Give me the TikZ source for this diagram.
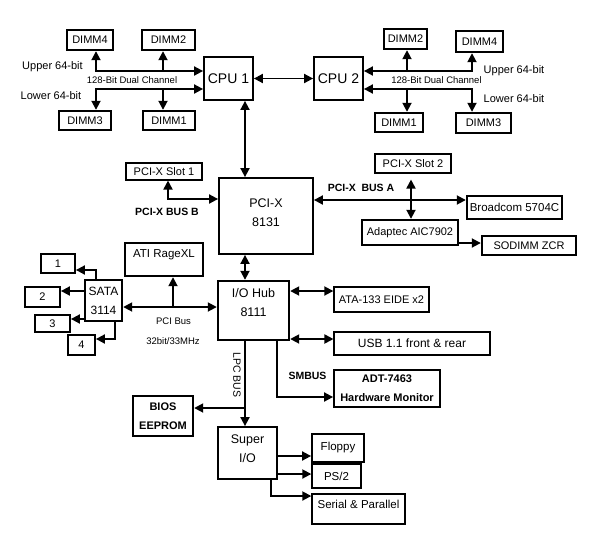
\documentclass[tikz,border=0pt]{standalone}
\usepackage{fontspec}
\setmainfont{Liberation Sans}
\usepackage{tikz}
\usetikzlibrary{arrows.meta}

\begin{document}
\begin{tikzpicture}[x=1pt,y=-1pt,
	thickbox/.style={draw,line width=2.4pt,inner sep=1pt,align=center},
	midbox/.style={draw,line width=1.8pt,inner sep=1pt,align=center},
	thinbox/.style={draw,line width=1.1pt,inner sep=1pt,align=center},
	fnt/.style={font=\fontsize{#1}{19}\selectfont},
	fntb/.style={font=\fontsize{#1}{19}\selectfont\bfseries},
	lbl/.style={inner sep=0pt,align=center,font=\fontsize{#1}{19}\selectfont},
	lblb/.style={inner sep=0pt,align=center,font=\fontsize{#1}{19}\selectfont\bfseries},
	arr/.style={line width=1.8pt,-{Triangle[length=9pt,width=9pt]}},
	dbl/.style={line width=1.8pt,{Triangle[length=9pt,width=9pt]}-{Triangle[length=9pt,width=9pt]}}]

	\useasboundingbox (0,0) rectangle (593,555);

	% processors and memory
	\node[midbox,fnt=14,minimum width=49pt,minimum height=43pt] (cpu1) at (228.5,78.5) {CPU 1};
	\node[midbox,fnt=14,minimum width=49pt,minimum height=43pt] (cpu2) at (338.5,78.5) {CPU 2};
	\node[thickbox,fnt=11,minimum width=46pt,minimum height=20pt] (dimmA4) at (90,40) {DIMM4};
	\node[thickbox,fnt=11,minimum width=53pt,minimum height=20pt] (dimmA2) at (168.5,40) {DIMM2};
	\node[thickbox,fnt=11,minimum width=52pt,minimum height=19pt] (dimmA3) at (85,120.5) {DIMM3};
	\node[thickbox,fnt=11,minimum width=52pt,minimum height=19pt] (dimmA1) at (169,120.5) {DIMM1};
	\node[thickbox,fnt=11,minimum width=43pt,minimum height=20pt] (dimmB2) at (405.5,39) {DIMM2};
	\node[thickbox,fnt=11,minimum width=47pt,minimum height=21pt] (dimmB4) at (479.5,41.5) {DIMM4};
	\node[thickbox,fnt=11,minimum width=48pt,minimum height=19pt] (dimmB1) at (399,122.5) {DIMM1};
	\node[thickbox,fnt=11,minimum width=55pt,minimum height=20pt] (dimmB3) at (483.5,123) {DIMM3};

	% PCI-X bridge
	\node[midbox,minimum width=94pt,minimum height=76pt,
		label={[lbl=12.5,yshift=3.5pt]center:{PCI-X\\8131}}] (pcix) at (266,216) {};
	\node[thinbox,fnt=11,minimum width=76pt,minimum height=17pt] (slot1) at (164,171.5) {PCI-X Slot 1};
	\node[thinbox,fnt=11,minimum width=76pt,minimum height=19pt] (slot2) at (413,163.5) {PCI-X Slot 2};
	\node[thickbox,fnt=11.5,minimum width=95pt,minimum height=23pt] (bcm) at (514.5,207.5) {Broadcom 5704C};
	\node[thickbox,fnt=11,minimum width=96pt,minimum height=25pt] (aic) at (410,232.5) {Adaptec AIC7902};
	\node[thickbox,fnt=11,minimum width=94pt,minimum height=19pt] (sodimm) at (529,245.5) {SODIMM ZCR};

	% PCI bus side
	\node[thickbox,minimum width=78pt,minimum height=33pt,
		label={[lbl=11.5,yshift=4.5pt]center:ATI RageXL}] (ati) at (164,259.5) {};
	\node[thickbox,fnt=12,minimum width=37pt,minimum height=41pt] (sata) at (103.5,300.5) {SATA\\3114};
	\node[midbox,fnt=11,minimum width=34pt,minimum height=19pt] (s1) at (58,263.5) {1};
	\node[midbox,fnt=11,minimum width=35pt,minimum height=20pt] (s2) at (42.5,297) {2};
	\node[midbox,fnt=11,minimum width=35pt,minimum height=17pt] (s3) at (52.5,323.5) {3};
	\node[midbox,fnt=11,minimum width=27pt,minimum height=20pt] (s4) at (81.5,345) {4};

	% I/O hub and its devices
	\node[thickbox,minimum width=71pt,minimum height=59pt,
		label={[lbl=12.5,yshift=8pt]center:{I/O Hub\\8111}}] (iohub) at (253.5,310.5) {};
	\node[thinbox,line width=1.4pt,fnt=11,minimum width=95pt,minimum height=25pt] (ata) at (381.5,299.5) {ATA-133 EIDE x2};
	\node[thinbox,fnt=12,minimum width=156pt,minimum height=23pt] (usb) at (412,343.5) {USB 1.1 front \& rear};
	\node[midbox,fntb=11,minimum width=106pt,minimum height=37pt] (adt) at (387,388.5) {ADT-7463\\Hardware Monitor};
	\node[thickbox,fntb=11,minimum width=60pt,minimum height=40pt] (bios) at (163,416) {BIOS\\EEPROM};
	\node[midbox,minimum width=59pt,minimum height=52pt,
		label={[lbl=12.5,yshift=4pt]center:{Super\\I/O}}] (super) at (247.5,453) {};
	\node[midbox,fnt=11.5,minimum width=52pt,minimum height=28pt] (floppy) at (338,448) {Floppy};
	\node[thinbox,line width=1.4pt,fnt=11.5,minimum width=49pt,minimum height=24pt] (ps2) at (336.5,476) {PS/2};
	\node[thinbox,line width=1.4pt,minimum width=93pt,minimum height=30pt,
		label={[lbl=11.5,yshift=5pt]center:Serial \& Parallel}] (serial) at (358.5,509) {};

	% bus labels
	\node[lbl=11] (upLA) at (52.5,67) {Upper 64-bit};
	\node[lbl=11] (loLA) at (51,96) {Lower 64-bit};
	\node[lbl=9.5] (dcA) at (132,80.5) {128-Bit Dual Channel};
	\node[lbl=11] (upLB) at (514,71) {Upper 64-bit};
	\node[lbl=11] (loLB) at (514,99) {Lower 64-bit};
	\node[lbl=9.5] (dcB) at (436.5,80.5) {128-Bit Dual Channel};
	\node[lblb=10.5] (busBlbl) at (167,212) {PCI-X BUS B};
	\node[lblb=10.5] (busAlbl) at (361,188) {PCI-X~~BUS A};
	\node[lbl=9.5] (pcilbl) at (173.5,321) {PCI Bus};
	\node[lbl=9.5] (clklbl) at (173,341) {32bit/33MHz};
	\node[lblb=10.5] (smblbl) at (307.5,376) {SMBUS};
	\node[lbl=10.5,rotate=-90] (lpclbl) at (237,375) {LPC BUS};

	% junction points of the buses
	\coordinate (upA) at (96,71);
	\coordinate (upAb) at (163,71);
	\coordinate (loA) at (96,89);
	\coordinate (loAb) at (163,89);
	\coordinate (upB) at (472,71);
	\coordinate (upBb) at (407,71);
	\coordinate (loB) at (472,89);
	\coordinate (loBb) at (407,89);
	\coordinate (spine) at (245,0);
	\coordinate (busB) at (168,199);
	\coordinate (busA) at (0,200);
	\coordinate (aicX) at (411,0);
	\coordinate (zcr) at (0,243);
	\coordinate (pcibus) at (0,307);
	\coordinate (atiX) at (173,0);
	\coordinate (sA) at (96,270);
	\coordinate (sB) at (0,291);
	\coordinate (sC) at (0,319);
	\coordinate (sD) at (115,339);
	\coordinate (ataY) at (0,291);
	\coordinate (usbY) at (0,339);
	\coordinate (smb) at (277,397);
	\coordinate (biosY) at (0,408);
	\coordinate (fdY) at (0,456);
	\coordinate (psY) at (0,474);
	\coordinate (spX) at (271,496);

	% memory channels
	\draw[dbl] (dimmA4.south -| upA) |- (cpu1.west |- upA);
	\draw[arr] (upAb) -- (dimmA2.south -| upAb);
	\draw[dbl] (dimmA3.north -| loA) |- (cpu1.west |- loA);
	\draw[arr] (loAb) -- (dimmA1.north -| loAb);
	\draw[dbl] (dimmB4.south -| upB) |- (cpu2.east |- upB);
	\draw[arr] (upBb) -- (dimmB2.south -| upBb);
	\draw[dbl] (dimmB3.north -| loB) |- (cpu2.east |- loB);
	\draw[arr] (loBb) -- (dimmB1.north -| loBb);
	\draw[dbl] (cpu1) -- (cpu2);

	% PCI-X
	\draw[dbl] (cpu1.south -| spine) -- (pcix.north -| spine);
	\draw[dbl] (pcix.south -| spine) -- (iohub.north -| spine);
	\draw[dbl] (slot1.south -| busB) |- (pcix.west |- busB);
	\draw[dbl] (pcix.east |- busA) -- (bcm.west |- busA);
	\draw[dbl,shorten <=6pt] (slot2.south -| aicX) -- (aic.north -| aicX);
	\draw[arr] (aic.east |- zcr) -- (sodimm.west |- zcr);

	% PCI bus and SATA ports
	\draw[dbl] (sata.east |- pcibus) -- (iohub.west |- pcibus);
	\draw[arr] (atiX |- pcibus) -- (ati.south -| atiX);
	\draw[arr] (sata.north -| sA) |- (s1.east |- sA);
	\draw[arr] (sata.west |- sB) -- (s2.east |- sB);
	\draw[arr] (sata.west |- sC) -- (s3.east |- sC);
	\draw[arr] (sata.south -| sD) |- (s4.east |- sD);

	% I/O hub
	\draw[dbl] (iohub.east |- ataY) -- (ata.west |- ataY);
	\draw[dbl] (iohub.east |- usbY) -- (usb.west |- usbY);
	\draw[arr] (iohub.south -| smb) |- (adt.west |- smb);
	\draw[arr] (iohub.south -| spine) -- (super.north -| spine);
	\draw[arr] (spine |- biosY) -- (bios.east |- biosY);

	% super I/O
	\draw[arr] (super.east |- fdY) -- (floppy.west |- fdY);
	\draw[arr] (super.east |- psY) -- (ps2.west |- psY);
	\draw[arr] (super.south -| spX) |- (serial.west |- spX);

\end{tikzpicture}
\end{document}
